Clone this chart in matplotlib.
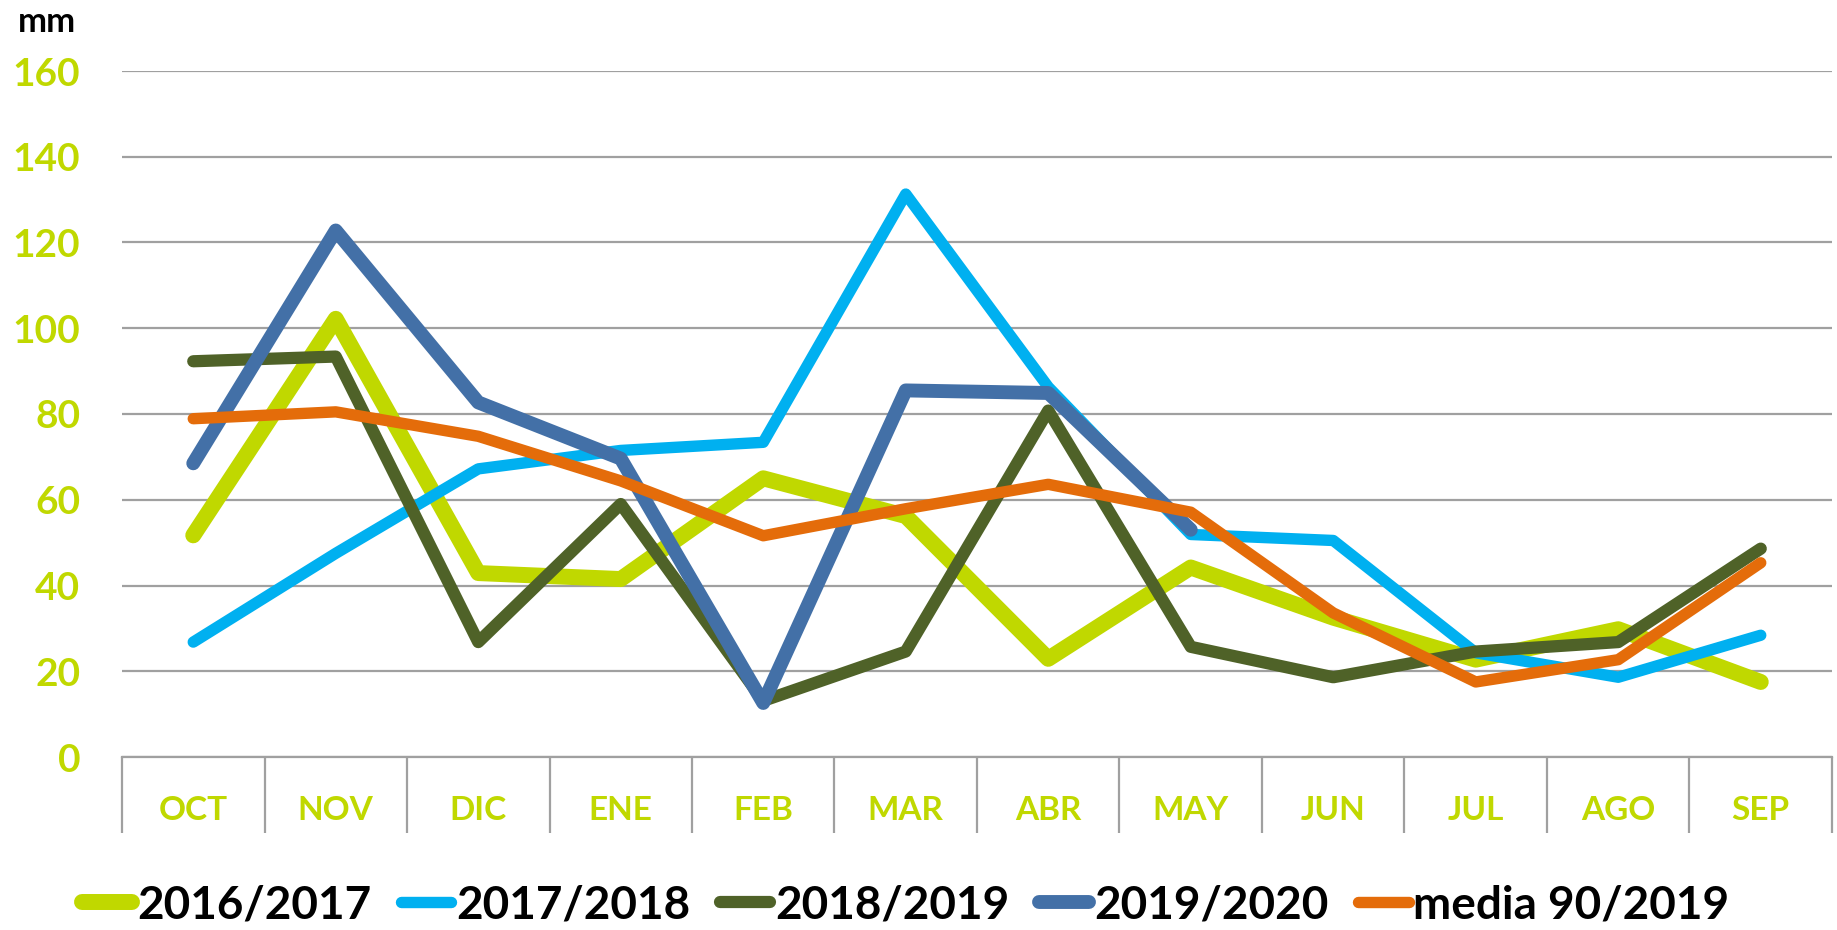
import matplotlib
matplotlib.use("Agg")
import matplotlib.pyplot as plt
import numpy as np

# monthly rainfall (mm), hydrological year Oct-Sep
months = ["OCT", "NOV", "DIC", "ENE", "FEB", "MAR", "ABR", "MAY", "JUN", "JUL", "AGO", "SEP"]
y_16_17 = [51.7, 102.2, 42.9, 41.5, 65.0, 56.2, 22.9, 44.2, 32.5, 22.7, 29.8, 17.5]
y_17_18 = [26.8, 47.5, 67.2, 71.5, 73.4, 131.3, 86.3, 51.9, 50.5, 24.3, 18.6, 28.4]
y_18_19 = [92.3, 93.4, 26.8, 59.0, 13.1, 24.6, 80.8, 25.7, 18.6, 24.6, 26.8, 48.6]
y_19_20 = [68.5, 122.8, 82.7, 69.6, 12.6, 85.5, 84.9, 53.0]
y_media = [78.9, 80.5, 74.8, 64.4, 51.6, 57.9, 63.6, 57.1, 33.6, 17.5, 22.7, 45.3]

series = [
    ("2016/2017", y_16_17, "#C0D800", 11.5),
    ("2017/2018", y_17_18, "#00B0F0", 8.2),
    ("2018/2019", y_18_19, "#4F6228", 8.8),
    ("2019/2020", y_19_20, "#4370A7", 10.0),
    ("media 90/2019", y_media, "#E46C0A", 8.2),
]

lime = "#C0D800"
grid_c = "#A0A0A0"
font = ["Lato", "DejaVu Sans"]
plt.rcParams["font.family"] = font
plt.rcParams["font.weight"] = "bold"

fig = plt.figure(figsize=(18.37, 9.30), dpi=100)
ax = fig.add_axes([122 / 1837, 1 - 757 / 930, (1832 - 122) / 1837, (757 - 71) / 930])

x = np.arange(len(months))
for name, vals, col, lw in series:
    ax.plot(x[:len(vals)], vals, color=col, lw=lw, label=name,
            solid_capstyle="round", solid_joinstyle="round")

ax.set_xlim(-0.5, 11.5)
ax.set_ylim(0, 160)
ax.set_yticks(np.arange(0, 161, 20))
ax.yaxis.grid(True, color=grid_c, lw=1.6)
ax.set_axisbelow(True)
for s in ["top", "right", "left"]:
    ax.spines[s].set_visible(False)
ax.spines["bottom"].set_color(grid_c)
ax.spines["bottom"].set_linewidth(1.6)

ax.tick_params(axis="y", length=0, pad=30, labelsize=28, labelcolor=lime)
ax.set_xticks(x)
ax.set_xticklabels(months)
ax.tick_params(axis="x", which="major", length=0, pad=28, labelsize=24, labelcolor=lime)
ax.set_xticks(np.arange(-0.5, 12, 1), minor=True)
ax.tick_params(axis="x", which="minor", length=55, width=1.6, color=grid_c, direction="out")

fig.text(18 / 1837, 1 - 22 / 930, "mm", fontsize=25, fontweight="bold", color="black",
         ha="left", va="center")

leg = fig.legend(loc="center", bbox_to_anchor=(0.493, 1 - 905 / 930), ncol=5, frameon=False,
                 handlelength=1.1, handletextpad=0.1, columnspacing=0.65,
                 prop={"weight": "bold", "size": 33})
for h in leg.get_lines():
    h.set_solid_capstyle("round")

fig.savefig("out.png", dpi=100)
